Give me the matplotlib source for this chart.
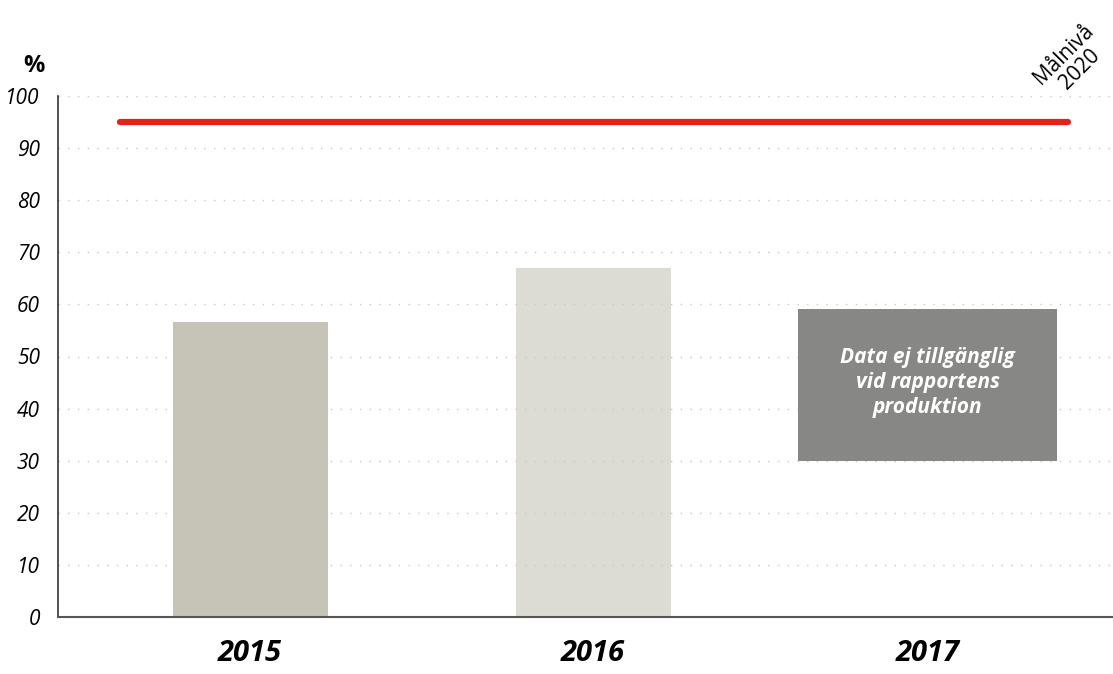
import matplotlib
matplotlib.use("Agg")
import matplotlib.pyplot as plt
from matplotlib.patches import Rectangle

years = ["2015", "2016", "2017"]
values = [56.6, 67.0]
target = 95
na_low, na_high = 29.9, 59.1
bar_colors = ["#c6c3b7", "#dddcd4"]
yticks = [0, 10, 20, 30, 40, 50, 60, 70, 80, 90, 100]

plt.rcParams['font.family'] = ['Open Sans', 'DejaVu Sans']

fig = plt.figure(figsize=(11.13, 6.74), dpi=100)
ax = fig.add_axes([58/1113, 57/674, 1 - 58/1113, (617-96)/674])
ax.set_xlim(-0.56, 2.516)
ax.set_ylim(0, 100)

for i, v in enumerate(values):
    ax.bar(i, v, width=0.452, color=bar_colors[i], zorder=1)

ax.add_patch(Rectangle((1.598, na_low), 2.353 - 1.598, na_high - na_low,
                       facecolor="#878785", edgecolor="none", zorder=3))
ax.text((1.598 + 2.353) / 2, (na_low + na_high) / 2 + 0.5,
        "Data ej tillgänglig\nvid rapportens\nproduktion",
        ha="center", va="center", color="white", fontsize=15,
        fontweight="bold", fontstyle="italic", linespacing=1.25, zorder=4)

ax.plot([-0.379, 2.385], [target, target], color="#e2231a", lw=4.5,
        solid_capstyle="round", zorder=5)

for t in yticks[1:]:
    ax.axhline(t, color="#c8c8c8", lw=1, ls=(0, (1, 6)), zorder=2)

ax.set_yticks(yticks)
ax.set_yticklabels([str(t) for t in yticks], fontsize=15, fontstyle="italic")
ax.set_xticks([0, 1, 1.975])
ax.set_xticklabels(years, fontsize=21, fontweight="bold", fontstyle="italic")
ax.tick_params(axis="y", length=0, pad=13)
ax.tick_params(axis="x", length=0, pad=16)

for s in ["top", "right"]:
    ax.spines[s].set_visible(False)
ax.spines["left"].set_color("#333333")
ax.spines["left"].set_linewidth(1.2)
ax.spines["bottom"].set_color("#555555")
ax.spines["bottom"].set_linewidth(1.5)

fig.text(34/1113, 1 - 66/674, "%", ha="center", va="center", fontsize=17,
         fontweight="bold")
fig.text(1072/1113, 1 - 62/674, "Målnivå\n2020", ha="center", va="center",
         rotation=45, fontsize=15, rotation_mode="anchor", linespacing=1.05)

fig.savefig("out.png", dpi=100)
